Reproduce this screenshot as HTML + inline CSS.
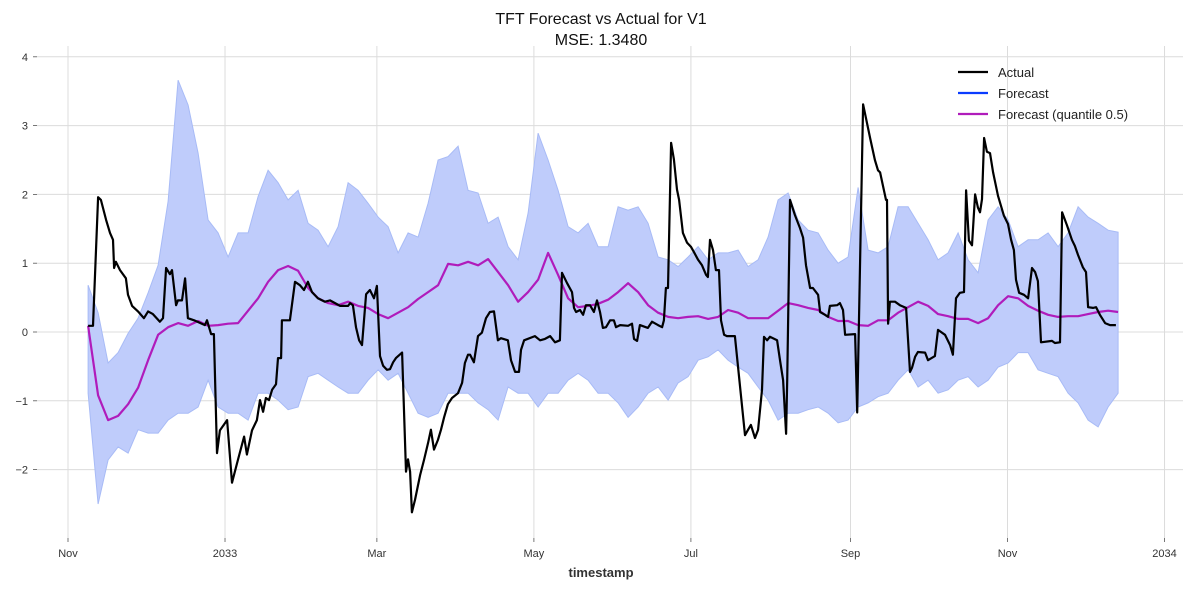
<!DOCTYPE html>
<html><head><meta charset="utf-8"><style>
html,body{margin:0;padding:0;background:#fff;}
svg{display:block;font-family:"Liberation Sans","DejaVu Sans",sans-serif;}
</style></head><body>
<svg id="chart" width="1189" height="590" viewBox="0 0 1189 590" xmlns="http://www.w3.org/2000/svg">
<text x="601" y="24" text-anchor="middle" font-size="16" fill="#111">TFT Forecast vs Actual for V1</text>
<text x="601" y="45" text-anchor="middle" font-size="16" fill="#111">MSE: 1.3480</text>
<g id="grid"></g>
<g id="band"></g>
<g id="lines"></g>
<g id="axes"></g>
<text x="601" y="577" text-anchor="middle" font-size="13" font-weight="bold" fill="#333">timestamp</text>
<g>
 <g><line x1="958" y1="72" x2="988" y2="72" stroke="#000" stroke-width="2.2"/><text x="998" y="77" font-size="13" fill="#222">Actual</text></g>
 <g><line x1="958" y1="93" x2="988" y2="93" stroke="#0a3cff" stroke-width="2.2"/><text x="998" y="98" font-size="13" fill="#222">Forecast</text></g>
 <g><line x1="958" y1="114" x2="988" y2="114" stroke="#b01cbb" stroke-width="2.2"/><text x="998" y="119" font-size="13" fill="#222">Forecast (quantile 0.5)</text></g>
</g>
</svg>
<script>
// x in days since 2032-11-01
const xTickDays = [0, 61, 120, 181, 242, 304, 365, 426];
const xTickLabels = ["Nov", "2033", "Mar", "May", "Jul", "Sep", "Nov", "2034"];
const yTicks = [-2, -1, 0, 1, 2, 3, 4];

const actualDays = [7.8,9.7,11.7,12.8,14.8,16.3,17.5,17.9,18.6,20.2,22.5,23.3,24.9,27.2,29.5,31.1,33.0,35.7,36.9,38.1,39.6,40.4,42.0,42.7,44.3,45.5,46.6,49.0,53.2,54.0,55.6,56.7,57.9,59.0,61.8,63.7,66.0,68.4,69.5,71.5,73.4,74.6,75.8,76.9,78.1,79.3,80.8,81.6,82.8,83.1,83.9,86.2,88.2,90.1,91.7,93.2,94.8,97.1,99.8,101.8,105.7,108.8,109.6,110.7,111.9,113.1,114.2,115.8,117.3,118.9,120.0,121.2,122.4,123.9,125.1,126.3,127.4,129.8,131.3,132.1,132.9,133.6,134.8,136.8,138.3,139.9,141.0,142.2,143.7,144.9,146.1,147.6,149.2,151.5,153.1,154.2,155.4,156.2,157.7,159.3,160.8,162.4,163.9,165.5,167.0,168.2,170.9,172.1,173.7,175.2,176.0,177.2,181.4,183.4,185.3,187.3,189.2,191.1,191.9,193.9,195.8,196.6,197.4,198.9,200.1,201.2,202.8,204.3,205.5,206.7,207.8,209.0,210.6,212.1,212.9,214.5,217.6,219.1,219.9,221.1,222.2,225.3,226.9,229.2,230.8,231.5,232.3,233.1,234.3,235.4,236.6,237.4,238.9,240.5,242.0,243.2,244.8,246.3,247.9,248.6,249.4,250.6,251.7,252.9,253.7,254.9,256.0,259.1,263.0,264.2,265.3,266.9,268.1,269.6,270.4,271.6,272.7,275.5,276.6,277.8,279.0,279.4,280.5,282.4,284.4,285.6,286.7,288.3,289.4,291.4,292.2,294.1,295.3,296.0,298.8,299.9,301.1,301.9,305.8,306.6,308.9,311.6,313.5,314.7,315.5,316.6,317.8,318.2,318.6,319.3,321.3,323.2,325.6,327.1,327.9,329.1,330.2,333.0,334.1,336.8,338.0,340.7,342.7,343.8,345.0,346.5,348.1,348.9,350.0,351.2,352.4,353.5,354.3,355.1,355.9,357.0,358.2,359.4,361.3,363.6,365.2,366.4,367.5,368.3,369.5,371.4,373.0,374.5,375.7,376.8,378.0,382.3,383.4,385.4,386.2,388.1,390.0,391.2,392.4,394.3,395.5,396.3,398.2,399.4,400.9,402.9,404.8,407.1];
const actualValues = [.09,.09,1.96,1.92,1.63,1.44,1.34,.93,1.02,.90,.78,.54,.38,.30,.20,.30,.26,.15,.20,.93,.84,.90,.39,.46,.46,.78,.20,.17,.10,.17,-.03,-.03,-1.76,-1.43,-1.28,-2.19,-1.86,-1.52,-1.78,-1.43,-1.28,-.99,-1.16,-.96,-.99,-.84,-.76,-.38,-.38,.17,.17,.17,.73,.68,.61,.73,.58,.49,.44,.46,.38,.38,.42,.39,.07,-.12,-.19,.55,.61,.49,.67,-.35,-.49,-.55,-.54,-.44,-.38,-.30,-2.03,-1.85,-2.03,-2.62,-2.44,-2.08,-1.86,-1.61,-1.42,-1.71,-1.57,-1.42,-1.24,-1.05,-.96,-.89,-.74,-.45,-.33,-.33,-.44,-.06,-.01,.20,.29,.30,-.12,-.09,-.12,-.41,-.58,-.58,-.26,-.12,-.06,-.12,-.10,-.06,-.15,-.12,.86,.71,.58,.35,.29,.32,.25,.39,.39,.29,.46,.29,.06,.07,.17,.17,.07,.10,.09,.12,-.10,-.13,.10,.06,.15,.10,.07,.17,.64,.64,2.75,2.51,2.07,1.92,1.44,1.30,1.24,1.16,1.05,.97,.83,.80,1.34,1.19,.90,.90,.17,-.04,-.06,-.06,-1.50,-1.42,-1.35,-1.54,-1.42,-.84,-.07,-.12,-.07,-.12,-.41,-.70,-1.48,-.70,1.92,1.70,1.51,1.37,.97,.64,.64,.54,.29,.25,.22,.38,.39,.42,.32,-.04,-.03,-1.17,3.31,2.82,2.50,2.35,2.32,2.13,1.92,1.92,.12,.44,.44,.39,.35,-.58,-.52,-.36,-.29,-.30,-.41,-.35,.03,-.04,-.19,-.33,.49,.57,.58,2.06,1.33,1.26,2.0,1.81,1.74,1.93,2.82,2.62,2.60,2.32,1.98,1.69,1.57,1.34,1.19,.76,.57,.54,.49,.93,.87,.74,-.15,-.13,-.16,-.15,1.74,1.55,1.34,1.25,1.12,.94,.87,.36,.35,.36,.25,.13,.10,.10];

// forecast samples: start day and sampling interval (days)
const fcStartDay = 7.8;
const fcStepDays = 3.885;
const medianValues = [.09,-.92,-1.28,-1.22,-1.05,-.81,-.41,-.04,.07,.13,.09,.16,.09,.10,.12,.13,.31,.49,.73,.90,.96,.89,.64,.49,.42,.39,.44,.38,.35,.26,.20,.28,.36,.48,.58,.68,.99,.97,1.02,.97,1.06,.87,.68,.44,.58,.76,1.15,.83,.49,.36,.38,.41,.47,.58,.71,.58,.39,.28,.22,.20,.22,.23,.19,.22,.32,.28,.20,.20,.20,.31,.42,.39,.35,.32,.22,.16,.16,.10,.09,.17,.17,.28,.36,.44,.38,.26,.23,.19,.19,.13,.20,.39,.52,.49,.38,.31,.25,.22,.23,.23,.26,.29,.31,.29];
const upperValues = [.68,.28,-.45,-.30,-.02,.20,.57,.97,1.90,3.66,3.30,2.60,1.63,1.44,1.09,1.44,1.44,1.97,2.35,2.17,1.92,2.06,1.58,1.48,1.24,1.53,2.17,2.06,1.87,1.67,1.53,1.15,1.44,1.38,1.87,2.5,2.55,2.7,2.06,2.02,1.58,1.67,1.24,1.05,1.73,2.89,2.5,2.06,1.53,1.44,1.58,1.24,1.24,1.82,1.77,1.82,1.58,1.09,1.05,.95,1.09,1.24,1.05,1.15,1.15,1.19,.95,1.05,1.38,1.92,2.02,1.63,1.48,1.44,1.19,1.0,1.09,2.1,1.19,1.15,1.24,1.82,1.82,1.58,1.34,1.05,1.15,1.44,1.05,.86,1.63,1.82,1.63,1.24,1.34,1.34,1.44,1.24,1.44,1.82,1.67,1.58,1.48,1.45];
const lowerValues = [-.89,-2.5,-1.86,-1.67,-1.76,-1.42,-1.47,-1.47,-1.28,-1.18,-1.18,-1.09,-.70,-1.09,-1.18,-1.18,-1.28,-.89,-.89,-.99,-1.13,-1.09,-.65,-.6,-.7,-.80,-.89,-.89,-.7,-.55,-.7,-.6,-.89,-1.18,-1.24,-1.18,-.89,-.89,-.89,-1.03,-1.13,-1.28,-.80,-.89,-.89,-1.09,-.89,-.89,-.7,-.6,-.7,-.89,-.89,-1.03,-1.24,-1.09,-.89,-.80,-.99,-.74,-.65,-.41,-.36,-.26,-.41,-.51,-.6,-.8,-.99,-1.28,-1.18,-1.18,-1.13,-1.09,-1.18,-1.32,-1.28,-1.09,-1.03,-.94,-.89,-.7,-.55,-.8,-.7,-.89,-.84,-.7,-.65,-.8,-.7,-.51,-.45,-.3,-.3,-.55,-.6,-.65,-.89,-1.03,-1.28,-1.38,-1.09,-.89];

const NS = "http://www.w3.org/2000/svg";
const X0 = 68, PX_PER_DAY = 2.574, Y0 = 332, PX_PER_UNIT = 68.8;
const PLOT_L = 37, PLOT_R = 1183, PLOT_T = 46, PLOT_B = 538;
function xs(d){ return X0 + d * PX_PER_DAY; }
function ys(v){ return Y0 - v * PX_PER_UNIT; }
function mk(tag, attrs, parent){ const e = document.createElementNS(NS, tag); for (const k in attrs) e.setAttribute(k, attrs[k]); parent.appendChild(e); return e; }

const grid = document.getElementById('grid');
const axes = document.getElementById('axes');
xTickDays.forEach((d, i) => {
  const gl = mk('line', {x1: xs(d), x2: xs(d), y1: PLOT_T, y2: PLOT_B, stroke: '#dcdcdc', 'stroke-width': 1}, grid);
  
  
  const tk = mk('line', {x1: xs(d), x2: xs(d), y1: PLOT_B, y2: PLOT_B + 4, stroke: '#555', 'stroke-width': 0.8}, axes);
  
  
  const t = mk('text', {x: xs(d), y: 557, 'text-anchor': 'middle', 'font-size': 11, fill: '#333'}, axes);
  t.textContent = xTickLabels[i];
  
  
});
yTicks.forEach(v => {
  const gl = mk('line', {x1: PLOT_L, x2: PLOT_R, y1: ys(v), y2: ys(v), stroke: '#dcdcdc', 'stroke-width': 1}, grid);
  
  
  const tk = mk('line', {x1: PLOT_L - 4, x2: PLOT_L, y1: ys(v), y2: ys(v), stroke: '#555', 'stroke-width': 0.8}, axes);
  
  
  const t = mk('text', {x: 28, y: ys(v) + 4, 'text-anchor': 'end', 'font-size': 11, fill: '#333'}, axes);
  t.textContent = (v < 0 ? '\u2212' + Math.abs(v) : String(v));
  
  
});

// band
const band = document.getElementById('band');
const nB = Math.min(upperValues.length, lowerValues.length);
let up = [], lo = [];
for (let i = 0; i < nB; i++) {
  const d = fcStartDay + i * fcStepDays;
  up.push(xs(d).toFixed(1) + ',' + ys(upperValues[i]).toFixed(1));
  lo.push(xs(d).toFixed(1) + ',' + ys(lowerValues[i]).toFixed(1));
}
const poly = mk('polygon', {points: up.concat(lo.slice().reverse()).join(' '), fill: '#bfccfb', stroke: '#a8bbf6', 'stroke-width': 1}, band);



const lines = document.getElementById('lines');
let mp = [];
medianValues.forEach((v, i) => { mp.push(xs(fcStartDay + i * fcStepDays).toFixed(1) + ',' + ys(v).toFixed(1)); });
const med = mk('polyline', {points: mp.join(' '), fill: 'none', stroke: '#b01cbb', 'stroke-width': 2.2, 'stroke-linejoin': 'round'}, lines);



const nA = Math.min(actualDays.length, actualValues.length);
let ap = [];
for (let i = 0; i < nA; i++) ap.push(xs(actualDays[i]).toFixed(1) + ',' + ys(actualValues[i]).toFixed(1));
const act = mk('polyline', {points: ap.join(' '), fill: 'none', stroke: '#000', 'stroke-width': 2.2, 'stroke-linejoin': 'round'}, lines);


</script>
</body></html>
